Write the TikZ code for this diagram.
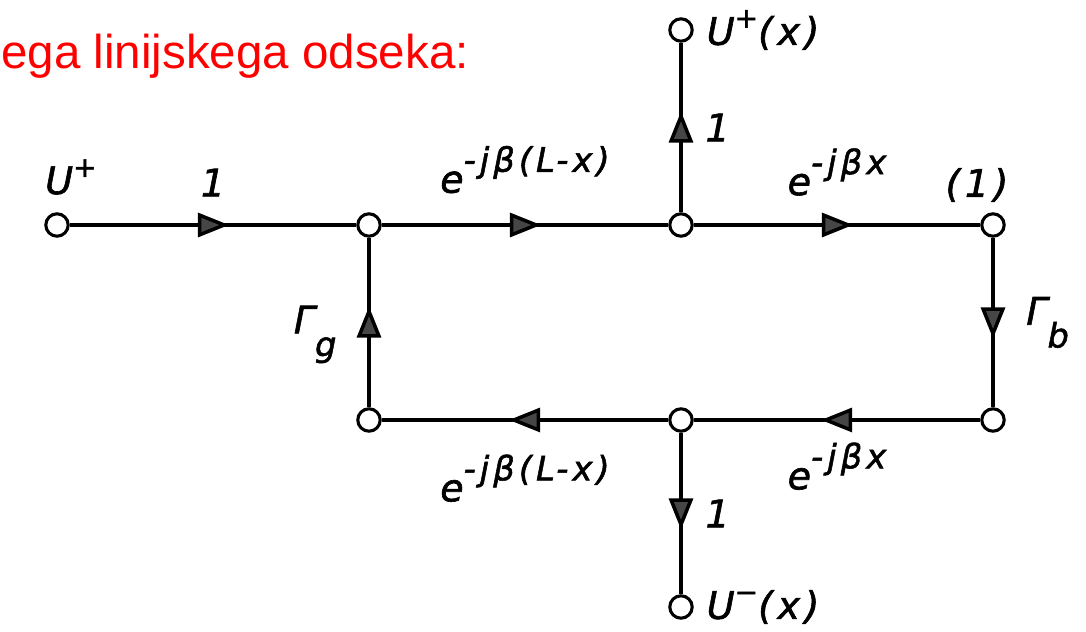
\documentclass[tikz,border=0pt]{standalone}
\usepackage{fontspec}
\setmainfont{Liberation Sans}
\newfontfamily\diagfont[LetterSpace=12, FakeBold=1.6]{DejaVu Sans}
\usepackage{tikz}
\usetikzlibrary{arrows.meta,positioning,decorations.markings}
\definecolor{Sred}{RGB}{255,0,0}
\definecolor{Sgray}{RGB}{70,70,70}
\newcommand{\expo}[1]{e\raisebox{0.55em}{\fontsize{24}{26}\selectfont#1}}
\newcommand{\upidx}[1]{\raisebox{0.45em}{\fontsize{20}{22}\selectfont#1}}
\newcommand{\subidx}[1]{\raisebox{-0.6em}{\fontsize{24}{26}\selectfont#1}}
\tikzset{
  branch/.style={line width=2.5pt, postaction={decorate},
    decoration={markings, mark=at position 0.5 with {\arrow[xshift=4mm]{Triangle[length=7.8mm,width=6mm,fill=Sgray]}}}},
  port/.style={circle, draw, line width=2.2pt, fill=white, minimum size=5.6mm, inner sep=0pt},
  gain/.style={font=\diagfont\itshape\fontsize{27}{30}\selectfont, inner sep=2pt},
  title/.style={font=\fontsize{33.8}{38}\selectfont, text=Sred, inner sep=0pt}
}
\begin{document}
\begin{tikzpicture}[on grid, node distance=4.875cm and 7.8cm]
  \useasboundingbox (-1.425,5.625) rectangle (25.725,-10.175);
  \node[title, anchor=base west] (ttl) at (-1.4,3.9) {ega linijskega odseka:};
  % upper row
  \node[port] (uin) at (0,0) {};
  \node[port, right=of uin] (a) {};
  \node[port, right=of a] (b) {};
  \node[port, right=of b] (c) {};
  % lower row
  \node[port, below=of a] (f) {};
  \node[port, below=of b] (e) {};
  \node[port, below=of c] (d) {};
  % outputs
  \node[port, above=of b] (top) {};
  \node[port, below=4.675cm of e] (bot) {};
  \node[gain, above=1.2cm of uin, xshift=0.35cm] (uinlbl) {U\upidx{+}};
  \node[gain, above=1.0cm of c, xshift=-0.4cm] (clbl) {(1)};
  \node[gain, anchor=west] (toplbl) at ([xshift=0.25cm]top.east) {U\upidx{+}(x)};
  \node[gain, anchor=west] (botlbl) at ([xshift=0.25cm]bot.east) {U\upidx{−}(x)};
  \draw[branch] (uin) -- node[gain, above=0.6cm] {1} (a);
  \draw[branch] (a) -- node[gain, above=0.68cm] {\expo{-jβ(L-x)}} (b);
  \draw[branch] (b) -- node[gain, above=0.62cm] {\expo{-jβx}} (c);
  \draw[branch] (c) -- node[gain, right=0.72cm] {Γ\subidx{b}} (d);
  \draw[branch] (d) -- node[gain, below=0.45cm] {\expo{-jβx}} (e);
  \draw[branch] (e) -- node[gain, below=0.75cm] {\expo{-jβ(L-x)}} (f);
  \draw[branch] (f) -- node[gain, left=0.7cm, yshift=-0.3cm] {Γ\subidx{g}} (a);
  \draw[branch] (b) -- node[gain, right=0.5cm] {1} (top);
  \draw[branch] (e) -- node[gain, right=0.5cm] {1} (bot);
\end{tikzpicture}
\end{document}
